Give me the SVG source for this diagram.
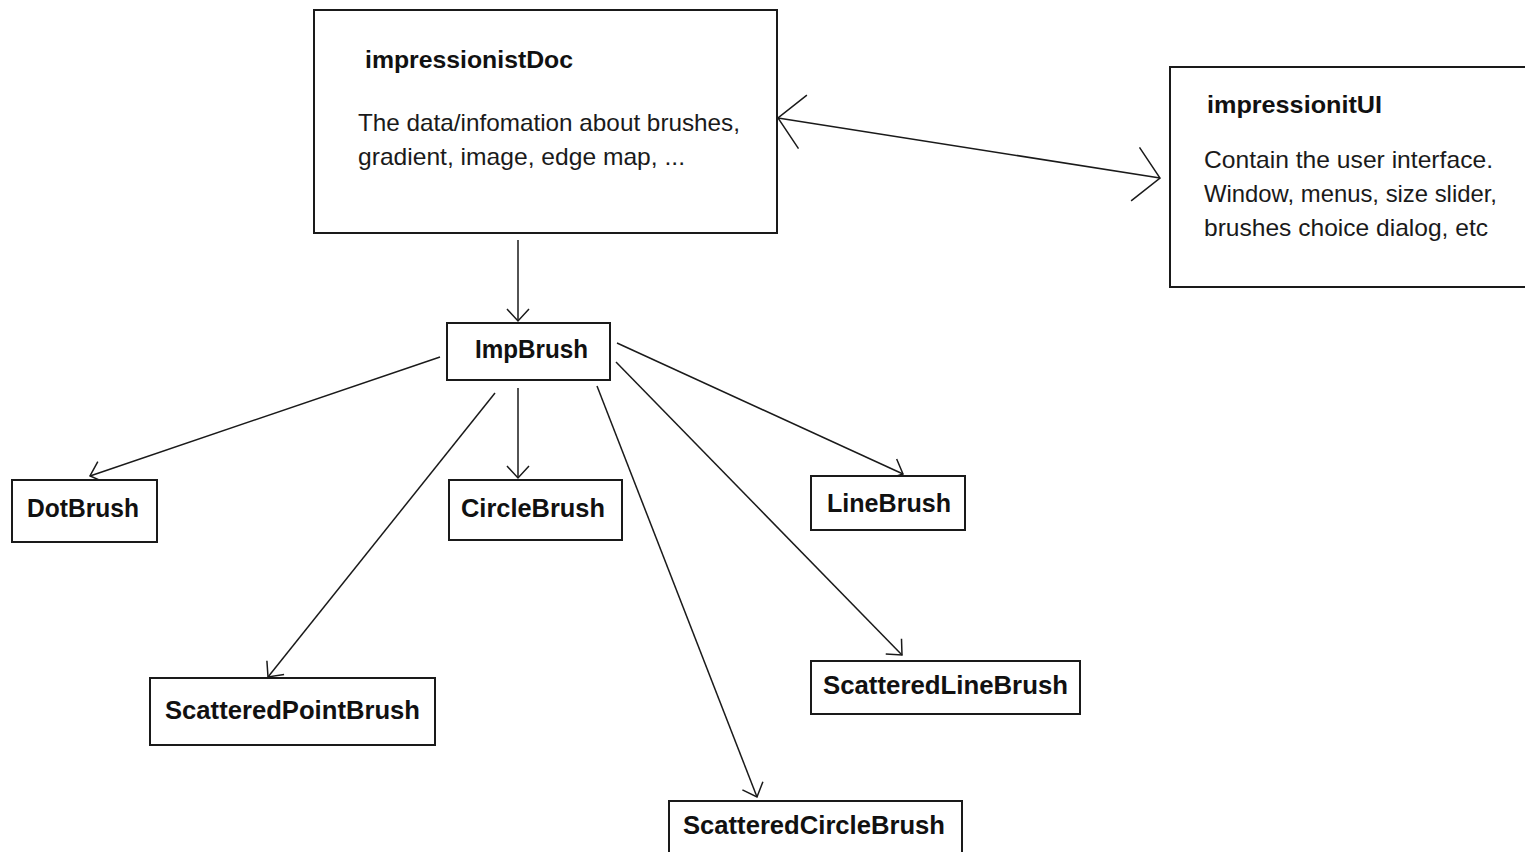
<svg xmlns="http://www.w3.org/2000/svg" width="1525" height="852" viewBox="0 0 1525 852">
<style>
.box{fill:#fff;stroke:#1a1a1a;stroke-width:2}
.lbl{font-family:"Liberation Sans",Arial,sans-serif;font-weight:bold;font-size:26px;fill:#111}
.ttl{font-family:"Liberation Sans",Arial,sans-serif;font-weight:bold;font-size:24px;fill:#111}
.body{font-family:"Liberation Sans",Arial,sans-serif;font-size:24px;fill:#1a1a1a}
.conn{fill:none;stroke:#1a1a1a;stroke-width:1.5}
</style>
<defs>
<marker id="ah" markerUnits="userSpaceOnUse" viewBox="-14 -13 16 26" markerWidth="16" markerHeight="26" refX="0" refY="0" orient="auto">
<path d="M-12,-11 L0,0 L-12,11" fill="none" stroke="#1a1a1a" stroke-width="1.5"/>
</marker>
<marker id="big" markerUnits="userSpaceOnUse" viewBox="-30 -30 32 60" markerWidth="32" markerHeight="60" refX="0" refY="0" orient="auto-start-reverse">
<path d="M-25,-27 L0,0 L-25,27" fill="none" stroke="#1a1a1a" stroke-width="1.5"/>
</marker>
</defs>
<rect width="1525" height="852" fill="#fff"/>
<g id="connectors">
<line class="conn" x1="518" y1="240" x2="518" y2="321" marker-end="url(#ah)"/>
<line class="conn" x1="778" y1="118" x2="1160" y2="178" marker-start="url(#big)" marker-end="url(#big)"/>
<line class="conn" x1="440" y1="357" x2="90" y2="476" marker-end="url(#ah)"/>
<line class="conn" x1="518" y1="388" x2="518" y2="478" marker-end="url(#ah)"/>
<line class="conn" x1="495" y1="393" x2="268" y2="677" marker-end="url(#ah)"/>
<line class="conn" x1="597" y1="386" x2="757" y2="797" marker-end="url(#ah)"/>
<line class="conn" x1="617" y1="343" x2="903" y2="474" marker-end="url(#ah)"/>
<line class="conn" x1="616" y1="362" x2="902" y2="655" marker-end="url(#ah)"/>
</g>
<g id="impressionistDoc">
<rect class="box" x="314" y="10" width="463" height="223"/>
<text class="ttl" x="365" y="68" textLength="208" lengthAdjust="spacingAndGlyphs">impressionistDoc</text>
<text class="body" x="358" y="131" textLength="382" lengthAdjust="spacingAndGlyphs">The data/infomation about brushes,</text>
<text class="body" x="358" y="165" textLength="327" lengthAdjust="spacingAndGlyphs">gradient, image, edge map, ...</text>
</g>
<g id="impressionitUI">
<rect class="box" x="1170" y="67" width="362" height="220"/>
<text class="ttl" x="1207" y="113" textLength="175" lengthAdjust="spacingAndGlyphs">impressionitUI</text>
<text class="body" x="1204" y="168" textLength="289" lengthAdjust="spacingAndGlyphs">Contain the user interface.</text>
<text class="body" x="1204" y="202" textLength="293" lengthAdjust="spacingAndGlyphs">Window, menus, size slider,</text>
<text class="body" x="1204" y="236" textLength="284" lengthAdjust="spacingAndGlyphs">brushes choice dialog, etc</text>
</g>
<g id="ImpBrush">
<rect class="box" x="447" y="323" width="163" height="57"/>
<text class="lbl" x="475" y="358" textLength="113" lengthAdjust="spacingAndGlyphs">ImpBrush</text>
</g>
<g id="DotBrush">
<rect class="box" x="12" y="480" width="145" height="62"/>
<text class="lbl" x="27" y="517" textLength="112" lengthAdjust="spacingAndGlyphs">DotBrush</text>
</g>
<g id="CircleBrush">
<rect class="box" x="449" y="480" width="173" height="60"/>
<text class="lbl" x="461" y="517" textLength="144" lengthAdjust="spacingAndGlyphs">CircleBrush</text>
</g>
<g id="LineBrush">
<rect class="box" x="811" y="476" width="154" height="54"/>
<text class="lbl" x="827" y="512" textLength="124" lengthAdjust="spacingAndGlyphs">LineBrush</text>
</g>
<g id="ScatteredPointBrush">
<rect class="box" x="150" y="678" width="285" height="67"/>
<text class="lbl" x="165" y="719" textLength="255" lengthAdjust="spacingAndGlyphs">ScatteredPointBrush</text>
</g>
<g id="ScatteredLineBrush">
<rect class="box" x="811" y="661" width="269" height="53"/>
<text class="lbl" x="823" y="694" textLength="245" lengthAdjust="spacingAndGlyphs">ScatteredLineBrush</text>
</g>
<g id="ScatteredCircleBrush">
<rect class="box" x="669" y="801" width="293" height="70"/>
<text class="lbl" x="683" y="834" textLength="262" lengthAdjust="spacingAndGlyphs">ScatteredCircleBrush</text>
</g>
</svg>
